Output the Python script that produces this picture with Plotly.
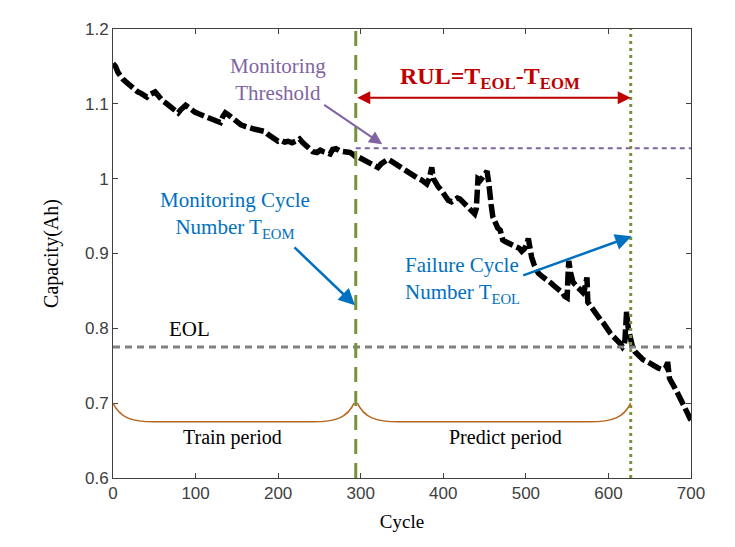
import plotly.graph_objects as go

# capacity curve
cycle = [0, 3, 6, 9, 12, 15, 18, 22, 26, 30, 34, 38, 41, 44, 48, 51, 54, 57, 60, 64,
         68, 71, 75, 79, 82, 85, 88, 92, 96, 99, 103, 107, 111, 115, 120, 125, 130, 133, 136, 140,
         145, 151, 155, 160, 164, 168, 172, 176, 180, 184, 188, 192, 196, 200, 204, 208, 212, 217, 221, 226,
         230, 234, 238, 242, 247, 251, 255, 259, 263, 266, 270, 275, 280, 284, 287, 290, 293, 297, 300, 303,
         307, 311, 315, 318, 321, 325, 329, 333, 336, 340, 344, 348, 352, 356, 360, 363, 366, 370, 374, 377,
         380, 383, 386, 388, 391, 394, 398, 402, 406, 410, 414, 417, 420, 424, 428, 432, 435, 438, 440, 442,
         445, 449, 451, 453, 455, 456, 458, 460, 463, 466, 469, 472, 475, 478, 481, 484, 488, 492, 495, 498,
         501, 503, 505, 507, 510, 513, 515, 519, 523, 527, 531, 535, 538, 541, 544, 547, 550, 551, 552, 554,
         557, 560, 563, 566, 569, 571, 573, 574, 575, 578, 582, 586, 590, 594, 598, 602, 606, 610, 614, 617,
         619, 620, 621, 622, 624, 626, 629, 632, 635, 638, 642, 646, 650, 653, 656, 660, 665, 669, 671, 672,
         674, 677, 680, 684, 687, 690, 693, 696, 699, 700]
capacity = [1.154, 1.150, 1.142, 1.136, 1.133, 1.130, 1.127, 1.124, 1.119, 1.116, 1.114, 1.110, 1.109, 1.112, 1.114, 1.116, 1.112, 1.107, 1.104, 1.101,
            1.097, 1.095, 1.091, 1.088, 1.092, 1.096, 1.098, 1.095, 1.091, 1.089, 1.087, 1.085, 1.083, 1.081, 1.079, 1.077, 1.075, 1.083, 1.088, 1.085,
            1.080, 1.075, 1.072, 1.070, 1.068, 1.066, 1.066, 1.065, 1.064, 1.063, 1.059, 1.056, 1.053, 1.050, 1.051, 1.049, 1.050, 1.048, 1.050, 1.053,
            1.048, 1.044, 1.040, 1.036, 1.035, 1.038, 1.036, 1.034, 1.033, 1.039, 1.040, 1.037, 1.036, 1.037, 1.035, 1.033, 1.030, 1.029, 1.027, 1.026,
            1.023, 1.021, 1.018, 1.016, 1.015, 1.020, 1.023, 1.026, 1.024, 1.021, 1.019, 1.015, 1.012, 1.009, 1.006, 1.004, 1.002, 1.000, 0.998, 0.996,
            0.993, 1.000, 1.015, 1.000, 0.993, 0.989, 0.984, 0.978, 0.971, 0.969, 0.972, 0.974, 0.973, 0.969, 0.965, 0.960, 0.957, 0.953, 0.960, 1.000,
            0.998, 1.005, 1.008, 1.010, 0.995, 0.980, 0.965, 0.949, 0.940, 0.934, 0.931, 0.918, 0.916, 0.914, 0.912, 0.911, 0.909, 0.907, 0.903, 0.906,
            0.912, 0.920, 0.905, 0.895, 0.885, 0.878, 0.874, 0.870, 0.867, 0.865, 0.860, 0.856, 0.853, 0.852, 0.848, 0.843, 0.841, 0.870, 0.890, 0.875,
            0.862, 0.858, 0.854, 0.851, 0.848, 0.852, 0.866, 0.868, 0.835, 0.830, 0.824, 0.818, 0.812, 0.807, 0.799, 0.794, 0.789, 0.785, 0.780, 0.775,
            0.778, 0.784, 0.815, 0.822, 0.800, 0.786, 0.776, 0.769, 0.765, 0.762, 0.758, 0.756, 0.753, 0.751, 0.749, 0.747, 0.745, 0.747, 0.752, 0.752,
            0.733, 0.728, 0.721, 0.713, 0.707, 0.699, 0.694, 0.686, 0.679, 0.678]

T_EOM = 294          # monitoring cycle
T_EOL = 627          # failure cycle
threshold = 1.0405   # monitoring threshold capacity
eol = 0.775          # end-of-life capacity
x_max = 700
y_ticks = [0.6, 0.7, 0.8, 0.9, 1.0, 1.1, 1.2]
x_ticks = [0, 100, 200, 300, 400, 500, 600, 700]

SERIF = "Liberation Serif"
SANS = "Liberation Sans"
GREEN = "#77933C"
PURPLE = "#8064A2"
BLUE = "#0070C0"
RED = "#C00000"
BROWN = "#B5651D"

fig = go.Figure()
fig.add_trace(go.Scatter(x=cycle, y=capacity, mode="lines",
                         line=dict(color="black", width=5.5, dash="14px,4px"),
                         showlegend=False))


def brace(x0, x1, top=0.70, low=0.675, w=50):
    # open bracket under a period, drawn as an svg path in data units
    return (f"M {x0},{top} C {x0 + 8},{low + 0.006} {x0 + 22},{low} {x0 + w},{low} "
            f"L {x1 - w},{low} C {x1 - 22},{low} {x1 - 8},{low + 0.006} {x1},{top}")


shapes = [
    dict(type="line", xref="x", yref="y", x0=0, x1=x_max, y0=eol, y1=eol,
         line=dict(color="#808080", width=3, dash="7px,5px")),
    dict(type="line", xref="x", yref="y", x0=T_EOM, x1=x_max, y0=threshold, y1=threshold,
         line=dict(color=PURPLE, width=2, dash="5px,4px")),
    dict(type="line", xref="x", yref="paper", x0=T_EOM, x1=T_EOM, y0=0, y1=1,
         line=dict(color=GREEN, width=3, dash="15px,9px")),
    dict(type="line", xref="x", yref="paper", x0=T_EOL, x1=T_EOL, y0=0, y1=1,
         line=dict(color=GREEN, width=3, dash="3px,4px")),
    dict(type="path", xref="x", yref="y", path=brace(0, T_EOM - 2),
         line=dict(color=BROWN, width=1.5)),
    dict(type="path", xref="x", yref="y", path=brace(T_EOM + 2, T_EOL),
         line=dict(color=BROWN, width=1.5)),
]

annotations = [
    # RUL span arrow
    dict(x=T_EOL, y=1.108, ax=T_EOM, ay=1.108, xref="x", yref="y", axref="x", ayref="y",
         text="", showarrow=True, arrowhead=2, arrowside="end+start", arrowsize=1.3,
         arrowwidth=2, arrowcolor=RED),
    dict(x=457, y=1.135, xref="x", yref="y", showarrow=False,
         text="<b>RUL=T<sub>EOL</sub>-T<sub>EOM</sub></b>",
         font=dict(family=SERIF, size=24, color=RED)),
    # monitoring threshold
    dict(x=326, y=1.046, ax=254, ay=1.100, xref="x", yref="y", axref="x", ayref="y",
         text="", showarrow=True, arrowhead=2, arrowsize=1.3, arrowwidth=2, arrowcolor=PURPLE),
    dict(x=200, y=1.132, xref="x", yref="y", showarrow=False,
         text="Monitoring<br>Threshold", font=dict(family=SERIF, size=21, color=PURPLE)),
    # monitoring cycle
    dict(x=T_EOM - 1, y=0.831, ax=218, ay=0.910, xref="x", yref="y", axref="x", ayref="y",
         text="", showarrow=True, arrowhead=2, arrowsize=1.3, arrowwidth=2.5, arrowcolor=BLUE),
    dict(x=148, y=0.951, xref="x", yref="y", showarrow=False,
         text="Monitoring Cycle<br>Number T<sub>EOM</sub>", font=dict(family=SERIF, size=21, color=BLUE)),
    # failure cycle
    dict(x=T_EOL + 1, y=0.923, ax=495, ay=0.870, xref="x", yref="y", axref="x", ayref="y",
         text="", showarrow=True, arrowhead=2, arrowsize=1.3, arrowwidth=2.5, arrowcolor=BLUE),
    dict(x=351, y=0.864, xref="x", yref="y", showarrow=False, xanchor="left", align="left",
         text="Failure Cycle<br>Number T<sub>EOL</sub>", font=dict(family=SERIF, size=21, color=BLUE)),
    dict(x=93, y=0.799, xref="x", yref="y", showarrow=False,
         text="EOL", font=dict(family=SERIF, size=21, color="black")),
    dict(x=145, y=0.654, xref="x", yref="y", showarrow=False,
         text="Train period", font=dict(family=SERIF, size=20, color="black")),
    dict(x=475, y=0.654, xref="x", yref="y", showarrow=False,
         text="Predict period", font=dict(family=SERIF, size=20, color="black")),
]

axis_common = dict(showgrid=False, zeroline=False, showline=True, linecolor="#404040",
                   linewidth=1, mirror="ticks", ticks="inside", ticklen=5, tickcolor="#404040",
                   tickfont=dict(family=SANS, size=17, color="#404040"))

# page body adds an 8px offset, so margins are trimmed to land the axes where the reference has them
fig.update_layout(
    width=735, height=547,
    margin=dict(l=105, r=52, t=15, b=77),
    paper_bgcolor="white", plot_bgcolor="white",
    shapes=shapes, annotations=annotations,
    xaxis=dict(range=[0, x_max], tickvals=x_ticks,
               title=dict(text="Cycle", font=dict(family=SERIF, size=19, color="black"), standoff=12),
               **axis_common),
    yaxis=dict(range=[0.6, 1.2], tickvals=y_ticks,
               title=dict(text="Capacity(Ah)", font=dict(family=SERIF, size=20, color="black"), standoff=20),
               **axis_common),
)

fig.write_html("out.html")
